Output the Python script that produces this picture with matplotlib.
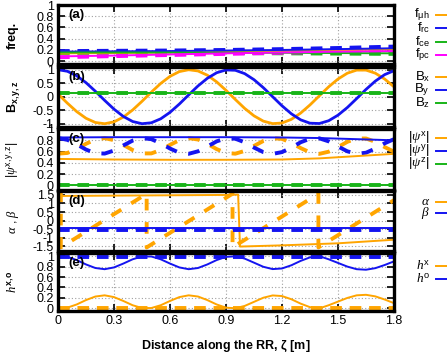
import numpy as np
import matplotlib
matplotlib.use("Agg")
import matplotlib.pyplot as plt
from matplotlib.lines import Line2D

plt.rcParams['font.family'] = ['Liberation Sans', 'DejaVu Sans']
plt.rcParams['mathtext.fontset'] = 'custom'
plt.rcParams['mathtext.rm'] = 'Liberation Sans'
plt.rcParams['mathtext.it'] = 'Liberation Serif:italic'
plt.rcParams['mathtext.bf'] = 'Liberation Sans:bold'

ORANGE = '#ffa500'
BLUE = '#1414f0'
GREEN = '#18b418'
MAGENTA = '#ff00ff'

# --- data ---
zeta = np.round(np.arange(0, 1.8001, 0.05), 3)
zeta_c = [0.0, 0.3, 0.6, 0.9, 1.2, 1.5, 1.8]

# (a) frequencies
f_rc = [0.17, 0.175, 0.18, 0.19, 0.20, 0.215, 0.23]
f_rc_d = [0.18, 0.185, 0.19, 0.20, 0.215, 0.235, 0.26]
f_uh = [0.14, 0.145, 0.155, 0.165, 0.18, 0.195, 0.21]
f_uh_d = [0.15, 0.155, 0.165, 0.175, 0.19, 0.205, 0.23]
f_ce = [0.155, 0.155, 0.155, 0.15, 0.15, 0.145, 0.14]
f_ce_d = [0.15, 0.15, 0.15, 0.145, 0.14, 0.135, 0.13]
f_pc = [0.085, 0.10, 0.12, 0.14, 0.155, 0.17, 0.18]
f_pc_d = [0.07, 0.09, 0.11, 0.13, 0.15, 0.17, 0.19]

# (b) field components
Bx = [0.102, -0.237, -0.549, -0.797, -0.953, -0.999, -0.930, -0.754, -0.490, -0.170,
      0.170, 0.490, 0.754, 0.930, 0.999, 0.953, 0.797, 0.549, 0.237, -0.102,
      -0.431, -0.707, -0.903, -0.995, -0.972, -0.837, -0.604, -0.303, 0.034, 0.367,
      0.655, 0.871, 0.985, 0.985, 0.871, 0.655, 0.367]
By = [1.000, 0.942, 0.776, 0.520, 0.203, -0.136, -0.460, -0.730, -0.917, -0.998,
      -0.964, -0.818, -0.578, -0.271, 0.068, 0.399, 0.682, 0.888, 0.991, 0.979,
      0.855, 0.631, 0.335, 0.000, -0.335, -0.631, -0.855, -0.979, -0.991, -0.888,
      -0.682, -0.399, -0.068, 0.271, 0.578, 0.818, 0.963]
Bz = 0.15

# (c) polarisation amplitudes
psi_x_d = [0.563, 0.576, 0.644, 0.738, 0.814, 0.839, 0.802, 0.719, 0.627, 0.568,
           0.568, 0.627, 0.719, 0.802, 0.839, 0.814, 0.738, 0.644, 0.576, 0.563,
           0.612, 0.700, 0.788, 0.837, 0.825, 0.756, 0.662, 0.586, 0.560, 0.598,
           0.680, 0.773, 0.832, 0.832, 0.773, 0.680, 0.598]
psi_y_d = [0.840, 0.808, 0.729, 0.636, 0.571, 0.565, 0.619, 0.709, 0.795, 0.839,
           0.820, 0.747, 0.654, 0.580, 0.561, 0.605, 0.690, 0.781, 0.835, 0.828,
           0.764, 0.671, 0.591, 0.560, 0.591, 0.671, 0.765, 0.828, 0.835, 0.781,
           0.690, 0.605, 0.561, 0.580, 0.654, 0.747, 0.820]
zeta_p = [0.0, 0.3, 0.6, 0.9, 1.2, 1.4, 1.6, 1.8]
psi_x = [0.47, 0.46, 0.455, 0.455, 0.46, 0.48, 0.52, 0.56]
psi_y = [0.85, 0.855, 0.855, 0.855, 0.85, 0.84, 0.82, 0.80]
psi_z = 0.005
psi_z_d = 0.01

# (d) angles
zeta_ad = [0.0, 0.015, 0.015, 0.475, 0.475, 0.935, 0.935, 1.395, 1.395, 1.8]
alpha_d = [1.47, 1.571, -1.571, 1.571, -1.571, 1.571, -1.571, 1.571, -1.571, 1.195]
zeta_a = [0.01, 0.3, 0.6, 0.9, 0.965, 0.975, 1.2, 1.5, 1.8]
alpha_s = [1.44, 1.46, 1.48, 1.50, 1.52, -1.52, -1.45, -1.33, -1.12]
beta_s = -0.45
beta_d = -0.55

# (e) mode content
hx = [0.003, 0.014, 0.075, 0.159, 0.227, 0.250, 0.216, 0.142, 0.060, 0.007,
      0.007, 0.060, 0.142, 0.216, 0.250, 0.227, 0.159, 0.075, 0.014, 0.003,
      0.047, 0.125, 0.204, 0.248, 0.236, 0.175, 0.091, 0.023, 0.000, 0.060,
      0.130, 0.200, 0.250, 0.260, 0.230, 0.170, 0.100]
ho = [0.997, 0.986, 0.925, 0.841, 0.773, 0.750, 0.784, 0.858, 0.940, 0.993,
      0.993, 0.940, 0.858, 0.784, 0.750, 0.773, 0.841, 0.925, 0.986, 0.997,
      0.953, 0.875, 0.796, 0.752, 0.764, 0.825, 0.909, 0.977, 1.000, 0.940,
      0.870, 0.800, 0.750, 0.740, 0.770, 0.830, 0.900]
hx_d = 0.01
ho_d = 0.99

# --- figure ---
W, H = 447, 356
fig = plt.figure(figsize=(W / 100, H / 100), dpi=100)

def px_axes(top, bottom, left=58, right=394):
    return fig.add_axes([left / W, 1 - bottom / H, (right - left) / W, (bottom - top) / H])

def style(ax, ylim, yticks, ylabels, show_x=False, tag=''):
    ax.set_xlim(0, 1.8)
    ax.set_ylim(*ylim)
    ax.set_xticks([0, 0.3, 0.6, 0.9, 1.2, 1.5, 1.8])
    ax.set_yticks(yticks)
    ax.set_yticklabels(ylabels)
    if show_x:
        ax.set_xticklabels(['0', '0.3', '0.6', '0.9', '1.2', '1.5', '1.8'])
    else:
        ax.set_xticklabels([])
    ax.tick_params(direction='in', length=5, width=1.2, top=True, right=True,
                   labelsize=9, pad=3)
    ax.grid(True, color='#a0a0a0', linestyle=(0, (1, 2)), linewidth=0.8)
    for s in ax.spines.values():
        s.set_linewidth(2.4)
    ax.text(0.03, 0.93, tag, transform=ax.transAxes, fontsize=9.5,
            fontweight='bold', va='top', ha='left')

thin = 1.4
thick = 2.8
dash = (0, (3, 2))

ax_a = px_axes(5, 64)
ax_a.plot(zeta_c, f_uh_d, color=ORANGE, lw=thick, ls=dash)
ax_a.plot(zeta_c, f_rc_d, color=BLUE, lw=thick, ls=dash)
ax_a.plot(zeta_c, f_ce_d, color=GREEN, lw=thick, ls=dash)
ax_a.plot(zeta_c, f_pc_d, color=MAGENTA, lw=thick, ls=dash)
ax_a.plot(zeta_c, f_uh, color=ORANGE, lw=thin)
ax_a.plot(zeta_c, f_rc, color=BLUE, lw=thin)
ax_a.plot(zeta_c, f_ce, color=GREEN, lw=thin)
ax_a.plot(zeta_c, f_pc, color=MAGENTA, lw=thin)
style(ax_a, (-0.05, 1.0), [0, 0.2, 0.4, 0.6, 0.8, 1],
      ['0', '0.2', '0.4', '0.6', '0.8', '1'], tag='(a)')

ax_b = px_axes(67, 127)
ax_b.plot(zeta, Bx, color=ORANGE, lw=2.0)
ax_b.plot(zeta, By, color=BLUE, lw=2.0)
ax_b.axhline(Bz, color=GREEN, lw=thin)
ax_b.axhline(Bz, color=GREEN, lw=thick, ls=dash)
style(ax_b, (-1.12, 1.1), [-1, -0.5, 0, 0.5, 1],
      ['-1', '-0.5', '0', '0.5', '1'], tag='(b)')

ax_c = px_axes(129, 190)
ax_c.plot(zeta, psi_x_d, color=ORANGE, lw=thick, ls=(0, (3, 3)))
ax_c.plot(zeta, psi_y_d, color=BLUE, lw=thick, ls=(0, (3, 3)))
ax_c.plot(zeta_p, psi_x, color=ORANGE, lw=thin)
ax_c.plot(zeta_p, psi_y, color=BLUE, lw=thin)
ax_c.axhline(psi_z, color=GREEN, lw=thin)
ax_c.axhline(psi_z_d, color=GREEN, lw=thick, ls=dash)
style(ax_c, (-0.08, 1.0), [0, 0.2, 0.4, 0.6, 0.8, 1],
      ['0', '0.2', '0.4', '0.6', '0.8', '1'], tag='(c)')

ax_d = px_axes(191, 251)
ax_d.plot(zeta_ad, alpha_d, color=ORANGE, lw=thick, ls=(0, (3, 3)))
ax_d.plot(zeta_a, alpha_s, color=ORANGE, lw=thin)
ax_d.axhline(beta_s, color=BLUE, lw=thin)
ax_d.axhline(beta_d, color=BLUE, lw=thick, ls=dash)
style(ax_d, (-1.78, 1.73), [-1.5, -1, -0.5, 0, 0.5, 1, 1.5],
      ['-1.5', '-1', '-0.5', '0', '0.5', '1', '1.5'], tag='(d)')

ax_e = px_axes(253, 311)
ax_e.plot(zeta, hx, color=ORANGE, lw=thin)
ax_e.plot(zeta, ho, color=BLUE, lw=thin)
ax_e.axhline(hx_d, color=ORANGE, lw=thick, ls=dash)
ax_e.axhline(ho_d, color=BLUE, lw=thick, ls=dash)
style(ax_e, (-0.05, 1.06), [0, 0.2, 0.4, 0.6, 0.8, 1],
      ['0', '0.2', '0.4', '0.6', '0.8', '1'], show_x=True, tag='(e)')
ax_e.set_xlabel(r'Distance along the RR, $\mathregular{\zeta}$ [m]',
                fontsize=9, fontweight='bold', labelpad=8)

# y labels
ylab = [(35, r'freq.', 'bold'),
        (97, r'$\mathbf{B_{x,y,z}}$', 'bold'),
        (160, r'$|\psi^{\mathrm{x,y,z}}|$', 'normal'),
        (221, r'$\alpha$ , $\beta$', 'normal'),
        (282, r'$h^{\mathbf{x,o}}$', 'normal')]
for y, s, w in ylab:
    fig.text(13 / W, 1 - y / H, s, rotation=90, ha='center', va='center',
             fontsize=9, fontweight=w)

# legends
legend = [(15, r'f$_{\mathrm{\mu h}}$', ORANGE), (28, r'f$_{\mathrm{rc}}$', BLUE),
          (42, r'f$_{\mathrm{ce}}$', GREEN), (55, r'f$_{\mathrm{pc}}$', MAGENTA),
          (77, r'B$_{\mathrm{x}}$', ORANGE), (90, r'B$_{\mathrm{y}}$', BLUE),
          (103, r'B$_{\mathrm{z}}$', GREEN),
          (138, r'$|\psi^{\mathrm{x}}|$', ORANGE), (151, r'$|\psi^{\mathrm{y}}|$', BLUE),
          (164, r'$|\psi^{\mathrm{z}}|$', GREEN),
          (202, r'$\alpha$', ORANGE), (213, r'$\beta$', BLUE),
          (266, r'$h^{\mathrm{x}}$', ORANGE), (279, r'$h^{\mathrm{o}}$', BLUE)]
for y, s, c in legend:
    fig.text(430 / W, 1 - y / H, s, ha='right', va='center', fontsize=9.5)
    fig.add_artist(Line2D([436 / W, 1.0], [1 - y / H, 1 - y / H],
                          color=c, lw=thin, transform=fig.transFigure))

fig.savefig('out.png', dpi=100)
